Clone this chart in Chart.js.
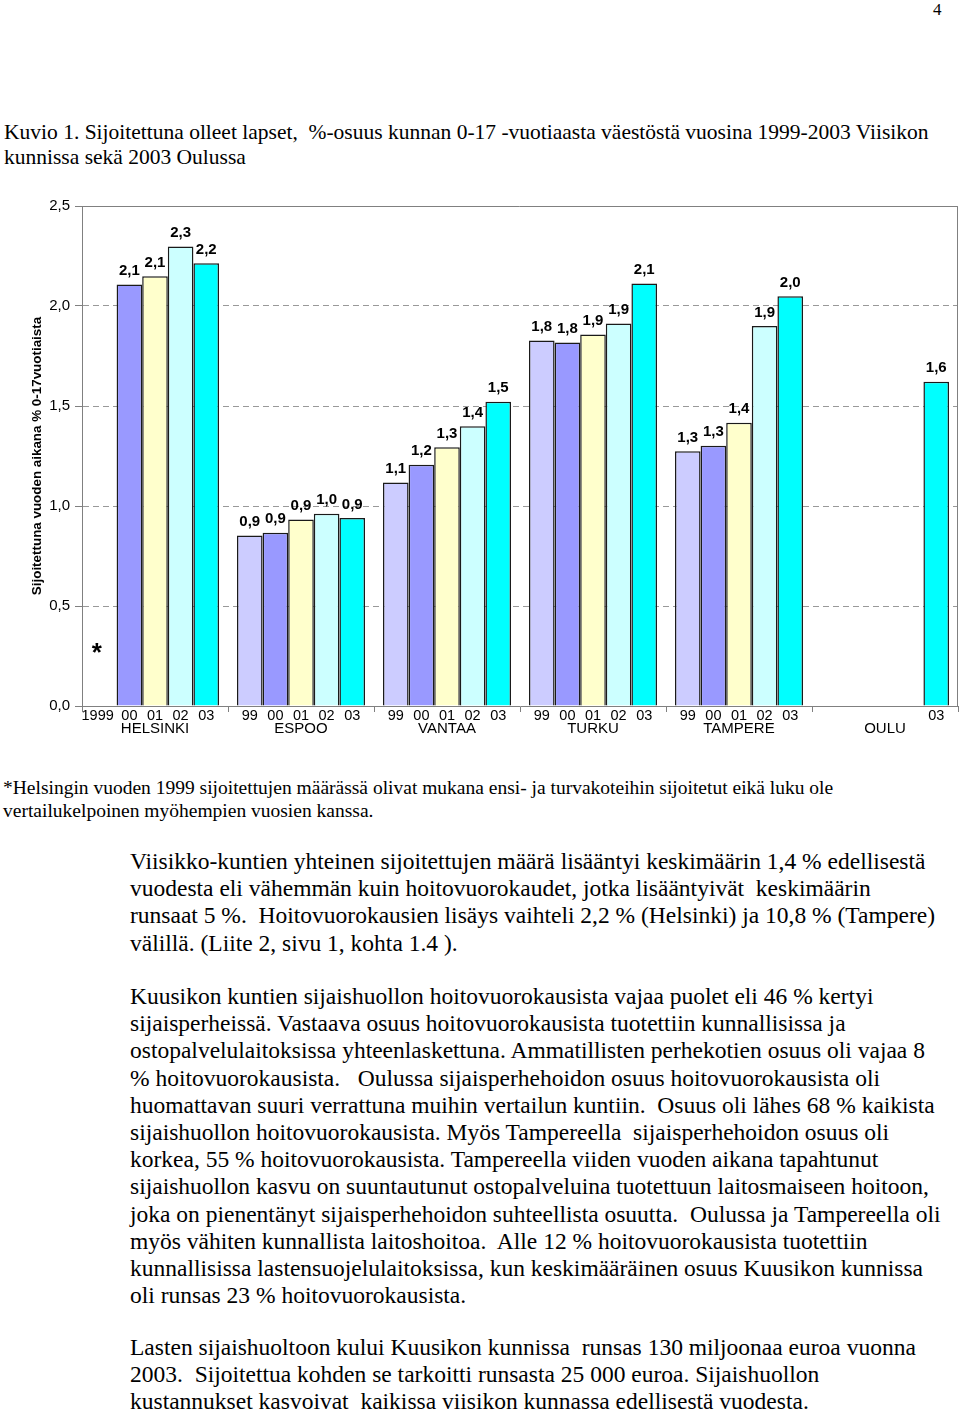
<!DOCTYPE html>
<html>
<head>
<meta charset="utf-8">
<script src="https://cdn.jsdelivr.net/npm/chart.js@4/dist/chart.umd.min.js"></script>
<style>
  html, body { margin: 0; padding: 0; background: #fff; }
  body { width: 960px; height: 1410px; position: relative; overflow: hidden; font-family: "Liberation Serif", "Times New Roman", serif; color: #000; }
  .txt { position: absolute; white-space: nowrap; }
  #pagenum { left: 933px; top: 0px; font-size: 17px; }
  #caption { left: 4px; top: 120px; font-size: 21.5px; line-height: 25px; }
  #chartBox { position: absolute; left: 0; top: 190px; width: 960px; height: 560px; }
  #foot { left: 3px; top: 776px; font-size: 19.5px; line-height: 23px; }
  .para { left: 130px; font-size: 23.5px; line-height: 27.2px; }
  #p1 { top: 848px; }
  #p2 { top: 983px; }
  #p3 { top: 1334px; }
</style>
</head>
<body>
<div class="txt" id="pagenum">4</div>
<div class="txt" id="caption">Kuvio 1. Sijoitettuna olleet lapset,&nbsp; %-osuus kunnan 0-17 -vuotiaasta väestöstä vuosina 1999-2003 Viisikon<br>kunnissa sekä 2003 Oulussa</div>

<div id="chartBox"><canvas id="kuvio"></canvas></div>

<div class="txt" id="foot">*Helsingin vuoden 1999 sijoitettujen määrässä olivat mukana ensi- ja turvakoteihin sijoitetut eikä luku ole<br>vertailukelpoinen myöhempien vuosien kanssa.</div>

<div class="txt para" id="p1">Viisikko-kuntien yhteinen sijoitettujen määrä lisääntyi keskimäärin 1,4 % edellisestä<br>vuodesta eli vähemmän kuin hoitovuorokaudet, jotka lisääntyivät&nbsp; keskimäärin<br>runsaat 5 %.&nbsp; Hoitovuorokausien lisäys vaihteli 2,2 % (Helsinki) ja 10,8 % (Tampere)<br>välillä. (Liite 2, sivu 1, kohta 1.4 ).</div>

<div class="txt para" id="p2">Kuusikon kuntien sijaishuollon hoitovuorokausista vajaa puolet eli 46 % kertyi<br>sijaisperheissä. Vastaava osuus hoitovuorokausista tuotettiin kunnallisissa ja<br>ostopalvelulaitoksissa yhteenlaskettuna. Ammatillisten perhekotien osuus oli vajaa 8<br>% hoitovuorokausista.&nbsp;&nbsp; Oulussa sijaisperhehoidon osuus hoitovuorokausista oli<br>huomattavan suuri verrattuna muihin vertailun kuntiin.&nbsp; Osuus oli lähes 68 % kaikista<br>sijaishuollon hoitovuorokausista. Myös Tampereella&nbsp; sijaisperhehoidon osuus oli<br>korkea, 55 % hoitovuorokausista. Tampereella viiden vuoden aikana tapahtunut<br>sijaishuollon kasvu on suuntautunut ostopalveluina tuotettuun laitosmaiseen hoitoon,<br>joka on pienentänyt sijaisperhehoidon suhteellista osuutta.&nbsp; Oulussa ja Tampereella oli<br>myös vähiten kunnallista laitoshoitoa.&nbsp; Alle 12 % hoitovuorokausista tuotettiin<br>kunnallisissa lastensuojelulaitoksissa, kun keskimääräinen osuus Kuusikon kunnissa<br>oli runsas 23 % hoitovuorokausista.</div>

<div class="txt para" id="p3">Lasten sijaishuoltoon kului Kuusikon kunnissa&nbsp; runsas 130 miljoonaa euroa vuonna<br>2003.&nbsp; Sijoitettua kohden se tarkoitti runsasta 25 000 euroa. Sijaishuollon<br>kustannukset kasvoivat&nbsp; kaikissa viisikon kunnassa edellisestä vuodesta.</div>

<script>
// kunnat ja vuodet
const kunnat = ['HELSINKI', 'ESPOO', 'VANTAA', 'TURKU', 'TAMPERE', 'OULU'];
const vuodet = ['1999', '2000', '2001', '2002', '2003'];

// osuus (%) 0-17 -vuotiaista, vuosittain
const v1999 = [null, 0.852, 1.117, 1.827, 1.274, null];
const v2000 = [2.108, 0.866, 1.206, 1.818, 1.301, null];
const v2001 = [2.149, 0.932, 1.294, 1.858, 1.416, null];
const v2002 = [2.298, 0.961, 1.399, 1.913, 1.900, null];
const v2003 = [2.214, 0.940, 1.521, 2.113, 2.049, 1.621];

// vuosimerkinnät pylväiden alla
const vuosiTekstit = [
    ['1999', '00', '01', '02', '03'],
    ['99', '00', '01', '02', '03'],
    ['99', '00', '01', '02', '03'],
    ['99', '00', '01', '02', '03'],
    ['99', '00', '01', '02', '03'],
    ['', '', '', '', '03']
];
const yTicks = [0, 0.5, 1.0, 1.5, 2.0, 2.5];

const varit = ['#ccccff', '#9999ff', '#ffffcc', '#ccffff', '#00ffff'];
const sarjat = [v1999, v2000, v2001, v2002, v2003];

const pilkku = (v) => v.toFixed(1).replace('.', ',');

// omat tekstit: arvot, vuodet, tähti, y-otsikko ja kehys
const tekstit = {
    id: 'tekstit',
    afterDatasetsDraw(chart) {
        const ctx = chart.ctx;
        const area = chart.chartArea;
        const yScale = chart.scales.y;
        ctx.save();

        // kehys ylä- ja oikealle
        ctx.strokeStyle = '#808080';
        ctx.lineWidth = 1;
        ctx.beginPath();
        ctx.moveTo(area.left, area.top + 0.5);
        ctx.lineTo(area.right - 0.5, area.top + 0.5);
        ctx.lineTo(area.right - 0.5, area.bottom);
        ctx.stroke();

        ctx.fillStyle = '#000';
        chart.data.datasets.forEach((ds, di) => {
            const meta = chart.getDatasetMeta(di);
            meta.data.forEach((el, i) => {
                const v = ds.data[i];
                if (v !== null) {
                    ctx.font = 'bold 15px Arial, "Liberation Sans", sans-serif';
                    ctx.textAlign = 'center';
                    ctx.textBaseline = 'bottom';
                    ctx.fillText(pilkku(v), el.x, el.y - 6);
                }
                const t = vuosiTekstit[i][di];
                if (t) {
                    ctx.font = '14.5px Arial, "Liberation Sans", sans-serif';
                    ctx.textBaseline = 'middle';
                    if (t.length > 2) {
                        // pitkä vuosiluku ei mahdu keskelle
                        ctx.textAlign = 'right';
                        ctx.fillText(t, el.x + 10, area.bottom + 10);
                    } else {
                        ctx.textAlign = 'center';
                        ctx.fillText(t, el.x, area.bottom + 10);
                    }
                }
            });
        });

        // tähti Helsingin 1999 kohdalla
        const el0 = chart.getDatasetMeta(0).data[0];
        ctx.textAlign = 'center';
        ctx.font = 'bold 26px Arial, "Liberation Sans", sans-serif';
        ctx.textBaseline = 'middle';
        ctx.fillText('*', el0.x - 7, yScale.getPixelForValue(0.26));

        // y-akselin otsikko
        ctx.translate(37, (area.top + area.bottom) / 2);
        ctx.rotate(-Math.PI / 2);
        ctx.font = 'bold 13.4px Arial, "Liberation Sans", sans-serif';
        ctx.textBaseline = 'middle';
        ctx.fillText('Sijoitettuna vuoden aikana % 0-17vuotiaista', 0, 0);
        ctx.restore();
    }
};

new Chart(document.getElementById('kuvio'), {
    type: 'bar',
    data: {
        labels: kunnat,
        datasets: sarjat.map((s, i) => ({
            label: vuodet[i],
            data: s,
            backgroundColor: varit[i],
            borderColor: '#1a1a1a',
            borderWidth: 1.5,
            borderSkipped: 'bottom',
            categoryPercentage: 0.877,
            barPercentage: 1.0
        }))
    },
    options: {
        responsive: true,
        maintainAspectRatio: false,
        animation: false,
        layout: { padding: { top: 16, right: 2, left: 0, bottom: 0 } },
        plugins: {
            legend: { display: false },
            tooltip: { enabled: false }
        },
        scales: {
            x: {
                grid: { offset: true, drawOnChartArea: false, tickLength: 6, color: '#808080' },
                border: { color: '#808080', width: 1 },
                ticks: {
                    color: '#000',
                    padding: 8,
                    font: { family: 'Arial, "Liberation Sans", sans-serif', size: 15 }
                },
                afterFit(scale) { scale.height = 44; }
            },
            y: {
                min: 0,
                max: 2.5,
                afterBuildTicks(scale) { scale.ticks = yTicks.map(v => ({ value: v })); },
                grid: { color: '#999999', tickLength: 7, tickColor: '#808080', tickBorderDash: [] },
                border: { color: '#808080', width: 1, dash: [6, 4] },
                ticks: {
                    color: '#000',
                    padding: 5,
                    font: { family: 'Arial, "Liberation Sans", sans-serif', size: 15 },
                    callback: (v) => pilkku(v)
                },
                afterFit(scale) { scale.width = 82; }
            }
        }
    },
    plugins: [tekstit]
});
</script>
</body>
</html>
